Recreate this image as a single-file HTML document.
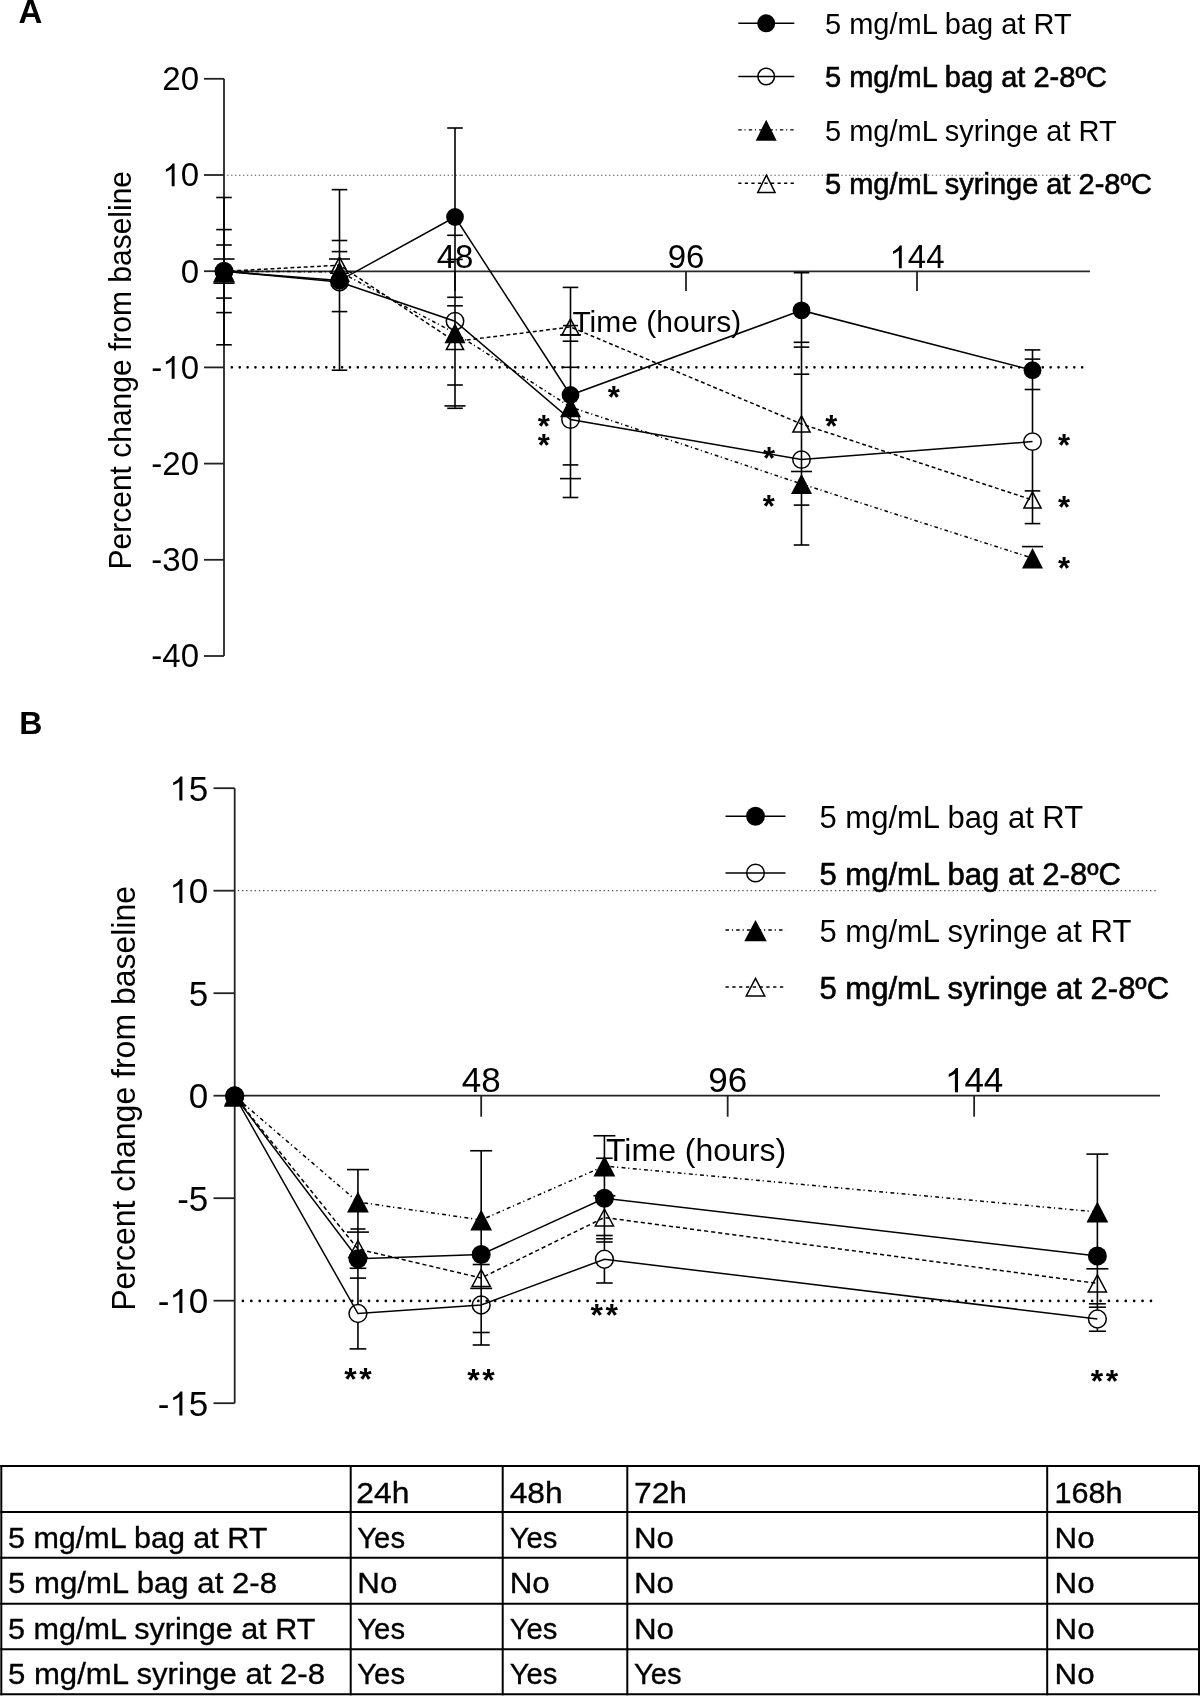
<!DOCTYPE html>
<html><head><meta charset="utf-8"><style>
html,body{margin:0;padding:0;background:#fff;}
svg{display:block;filter:grayscale(1);}
text{font-family:"Liberation Sans", sans-serif;fill:#000;}
</style></head><body>
<svg width="1200" height="1696" viewBox="0 0 1200 1696">
<rect width="1200" height="1696" fill="#fff"/>
<text x="18.60" y="22.50" font-size="33" text-anchor="start" font-weight="bold" >A</text>
<line x1="227.20" y1="175.25" x2="1083.00" y2="175.25" stroke="#555" stroke-width="1.2" stroke-dasharray="1.4 2.5365"/>
<line x1="231.87" y1="367.35" x2="1082.50" y2="367.35" stroke="#000" stroke-width="2.6" stroke-dasharray="0 7.873" stroke-linecap="round"/>
<line x1="224.00" y1="78.80" x2="224.00" y2="656.00" stroke="#222" stroke-width="1.8" />
<line x1="204.00" y1="78.80" x2="224.00" y2="78.80" stroke="#222" stroke-width="1.8" />
<text transform="translate(162.29,90.10) scale(1,1.0)" font-size="33">2</text>
<text transform="translate(180.65,90.10) scale(1,1.0)" font-size="33">0</text>
<line x1="204.00" y1="175.00" x2="224.00" y2="175.00" stroke="#222" stroke-width="1.8" />
<path d="M763 0L583 0L583 1100Q518 1040 412 982Q307 924 223 894L223 1061Q374 1129 484 1224Q595 1318 636 1409L763 1409Z" transform="translate(162.29,186.30) scale(0.01611,-0.01611)" fill="#000"/>
<text transform="translate(180.65,186.30) scale(1,1.0)" font-size="33">0</text>
<line x1="204.00" y1="271.20" x2="224.00" y2="271.20" stroke="#222" stroke-width="1.8" />
<text transform="translate(180.65,282.50) scale(1,1.0)" font-size="33">0</text>
<line x1="204.00" y1="367.40" x2="224.00" y2="367.40" stroke="#222" stroke-width="1.8" />
<text transform="translate(151.30,378.70) scale(1,1.0)" font-size="33">-</text>
<path d="M763 0L583 0L583 1100Q518 1040 412 982Q307 924 223 894L223 1061Q374 1129 484 1224Q595 1318 636 1409L763 1409Z" transform="translate(162.29,378.70) scale(0.01611,-0.01611)" fill="#000"/>
<text transform="translate(180.65,378.70) scale(1,1.0)" font-size="33">0</text>
<line x1="204.00" y1="463.60" x2="224.00" y2="463.60" stroke="#222" stroke-width="1.8" />
<text transform="translate(151.30,474.90) scale(1,1.0)" font-size="33">-</text>
<text transform="translate(162.29,474.90) scale(1,1.0)" font-size="33">2</text>
<text transform="translate(180.65,474.90) scale(1,1.0)" font-size="33">0</text>
<line x1="204.00" y1="559.80" x2="224.00" y2="559.80" stroke="#222" stroke-width="1.8" />
<text transform="translate(151.30,571.10) scale(1,1.0)" font-size="33">-</text>
<text transform="translate(162.29,571.10) scale(1,1.0)" font-size="33">3</text>
<text transform="translate(180.65,571.10) scale(1,1.0)" font-size="33">0</text>
<line x1="204.00" y1="656.00" x2="224.00" y2="656.00" stroke="#222" stroke-width="1.8" />
<text transform="translate(151.30,667.30) scale(1,1.0)" font-size="33">-</text>
<text transform="translate(162.29,667.30) scale(1,1.0)" font-size="33">4</text>
<text transform="translate(180.65,667.30) scale(1,1.0)" font-size="33">0</text>
<line x1="224.00" y1="271.35" x2="1090.00" y2="271.35" stroke="#2a2a2a" stroke-width="1.8" />
<line x1="455.00" y1="271.20" x2="455.00" y2="291.00" stroke="#222" stroke-width="1.8" />
<text transform="translate(436.65,268.30) scale(1,1.0)" font-size="33">4</text>
<text transform="translate(455.00,268.30) scale(1,1.0)" font-size="33">8</text>
<line x1="686.00" y1="271.20" x2="686.00" y2="291.00" stroke="#222" stroke-width="1.8" />
<text transform="translate(667.65,268.30) scale(1,1.0)" font-size="33">9</text>
<text transform="translate(686.00,268.30) scale(1,1.0)" font-size="33">6</text>
<line x1="917.00" y1="271.20" x2="917.00" y2="291.00" stroke="#222" stroke-width="1.8" />
<path d="M763 0L583 0L583 1100Q518 1040 412 982Q307 924 223 894L223 1061Q374 1129 484 1224Q595 1318 636 1409L763 1409Z" transform="translate(889.47,268.30) scale(0.01611,-0.01611)" fill="#000"/>
<text transform="translate(907.82,268.30) scale(1,1.0)" font-size="33">4</text>
<text transform="translate(926.18,268.30) scale(1,1.0)" font-size="33">4</text>
<text x="572.40" y="331.60" font-size="30" text-anchor="start" font-weight="normal" >Time (hours)</text>
<text transform="translate(131.2,370.2) rotate(-90) scale(1,1.04)" font-size="30" text-anchor="middle">Percent change from baseline</text>
<line x1="224.00" y1="197.50" x2="224.00" y2="344.80" stroke="#000" stroke-width="1.6" />
<line x1="216.20" y1="197.50" x2="231.80" y2="197.50" stroke="#000" stroke-width="1.6" />
<line x1="216.20" y1="229.60" x2="231.80" y2="229.60" stroke="#000" stroke-width="1.6" />
<line x1="216.20" y1="245.00" x2="231.80" y2="245.00" stroke="#000" stroke-width="1.6" />
<line x1="213.50" y1="259.00" x2="234.50" y2="259.00" stroke="#000" stroke-width="1.6" />
<line x1="213.50" y1="281.80" x2="234.50" y2="281.80" stroke="#000" stroke-width="1.6" />
<line x1="213.50" y1="283.20" x2="234.50" y2="283.20" stroke="#000" stroke-width="1.6" />
<line x1="216.20" y1="298.10" x2="231.80" y2="298.10" stroke="#000" stroke-width="1.6" />
<line x1="216.20" y1="312.60" x2="231.80" y2="312.60" stroke="#000" stroke-width="1.6" />
<line x1="216.20" y1="344.80" x2="231.80" y2="344.80" stroke="#000" stroke-width="1.6" />
<line x1="339.50" y1="189.65" x2="339.50" y2="370.20" stroke="#000" stroke-width="1.6" />
<line x1="331.70" y1="189.65" x2="347.30" y2="189.65" stroke="#000" stroke-width="1.6" />
<line x1="331.70" y1="240.50" x2="347.30" y2="240.50" stroke="#000" stroke-width="1.6" />
<line x1="331.70" y1="251.60" x2="347.30" y2="251.60" stroke="#000" stroke-width="1.6" />
<line x1="329.00" y1="259.00" x2="350.00" y2="259.00" stroke="#000" stroke-width="1.6" />
<line x1="331.70" y1="311.60" x2="347.30" y2="311.60" stroke="#000" stroke-width="1.6" />
<line x1="331.70" y1="370.20" x2="347.30" y2="370.20" stroke="#000" stroke-width="1.6" />
<line x1="455.00" y1="128.00" x2="455.00" y2="407.75" stroke="#000" stroke-width="1.6" />
<line x1="447.20" y1="128.00" x2="462.80" y2="128.00" stroke="#000" stroke-width="1.6" />
<line x1="447.20" y1="235.30" x2="462.80" y2="235.30" stroke="#000" stroke-width="1.6" />
<line x1="447.20" y1="259.40" x2="462.80" y2="259.40" stroke="#000" stroke-width="1.6" />
<line x1="447.20" y1="297.30" x2="462.80" y2="297.30" stroke="#000" stroke-width="1.6" />
<line x1="447.20" y1="305.80" x2="462.80" y2="305.80" stroke="#000" stroke-width="1.6" />
<line x1="447.20" y1="385.00" x2="462.80" y2="385.00" stroke="#000" stroke-width="1.6" />
<line x1="444.50" y1="405.90" x2="465.50" y2="405.90" stroke="#000" stroke-width="1.6" />
<line x1="447.20" y1="408.30" x2="462.80" y2="408.30" stroke="#000" stroke-width="1.6" />
<line x1="570.50" y1="287.40" x2="570.50" y2="497.50" stroke="#000" stroke-width="1.6" />
<line x1="562.70" y1="287.40" x2="578.30" y2="287.40" stroke="#000" stroke-width="1.6" />
<line x1="563.00" y1="325.60" x2="578.00" y2="325.60" stroke="#000" stroke-width="1.6" />
<line x1="560.00" y1="334.90" x2="581.00" y2="334.90" stroke="#000" stroke-width="1.6" />
<line x1="562.70" y1="341.20" x2="578.30" y2="341.20" stroke="#000" stroke-width="1.6" />
<line x1="562.70" y1="367.30" x2="578.30" y2="367.30" stroke="#000" stroke-width="1.6" />
<line x1="562.70" y1="464.90" x2="578.30" y2="464.90" stroke="#000" stroke-width="1.6" />
<line x1="560.00" y1="478.60" x2="581.00" y2="478.60" stroke="#000" stroke-width="1.6" />
<line x1="562.70" y1="497.50" x2="578.30" y2="497.50" stroke="#000" stroke-width="1.6" />
<line x1="801.50" y1="272.70" x2="801.50" y2="545.00" stroke="#000" stroke-width="1.6" />
<line x1="793.70" y1="272.70" x2="809.30" y2="272.70" stroke="#000" stroke-width="1.6" />
<line x1="793.70" y1="342.30" x2="809.30" y2="342.30" stroke="#000" stroke-width="1.6" />
<line x1="793.70" y1="347.10" x2="809.30" y2="347.10" stroke="#000" stroke-width="1.6" />
<line x1="793.70" y1="374.20" x2="809.30" y2="374.20" stroke="#000" stroke-width="1.6" />
<line x1="791.00" y1="471.50" x2="812.00" y2="471.50" stroke="#000" stroke-width="1.6" />
<line x1="793.70" y1="505.10" x2="809.30" y2="505.10" stroke="#000" stroke-width="1.6" />
<line x1="793.70" y1="545.00" x2="809.30" y2="545.00" stroke="#000" stroke-width="1.6" />
<line x1="1032.50" y1="349.90" x2="1032.50" y2="432.60" stroke="#000" stroke-width="1.6" />
<line x1="1032.50" y1="450.60" x2="1032.50" y2="523.60" stroke="#000" stroke-width="1.6" />
<line x1="1024.70" y1="349.90" x2="1040.30" y2="349.90" stroke="#000" stroke-width="1.6" />
<line x1="1024.70" y1="359.10" x2="1040.30" y2="359.10" stroke="#000" stroke-width="1.6" />
<line x1="1024.70" y1="389.50" x2="1040.30" y2="389.50" stroke="#000" stroke-width="1.6" />
<line x1="1024.70" y1="490.90" x2="1040.30" y2="490.90" stroke="#000" stroke-width="1.6" />
<line x1="1024.70" y1="523.60" x2="1040.30" y2="523.60" stroke="#000" stroke-width="1.6" />
<line x1="1022.00" y1="546.60" x2="1043.00" y2="546.60" stroke="#000" stroke-width="1.6" />
<polyline points="224.00,271.30 339.50,265.20 455.00,341.50 570.50,327.00 801.50,424.00 1032.50,500.00" fill="none" stroke="#000" stroke-width="1.5" stroke-dasharray="3.9 2.75"/>
<polyline points="224.00,271.50 339.50,271.70 455.00,333.10 570.50,407.00 801.50,483.90 1032.50,558.20" fill="none" stroke="#000" stroke-width="1.5" stroke-dasharray="3.7 2.6 1.1 3.1"/>
<polyline points="224.00,271.30 339.50,282.00 455.00,321.20 570.50,419.60 801.50,459.60 1032.50,441.60" fill="none" stroke="#000" stroke-width="1.5" />
<polyline points="224.00,271.30 339.50,280.60 455.00,217.00 570.50,395.00 801.50,310.40 1032.50,370.20" fill="none" stroke="#000" stroke-width="1.5" />
<polygon points="224.00,263.20 232.60,279.40 215.40,279.40" fill="none" stroke="#000" stroke-width="1.5" stroke-linejoin="miter"/>
<polygon points="339.50,257.10 348.10,273.30 330.90,273.30" fill="none" stroke="#000" stroke-width="1.5" stroke-linejoin="miter"/>
<polygon points="455.00,333.40 463.60,349.60 446.40,349.60" fill="none" stroke="#000" stroke-width="1.5" stroke-linejoin="miter"/>
<polygon points="570.50,318.90 579.10,335.10 561.90,335.10" fill="none" stroke="#000" stroke-width="1.5" stroke-linejoin="miter"/>
<polygon points="801.50,415.90 810.10,432.10 792.90,432.10" fill="none" stroke="#000" stroke-width="1.5" stroke-linejoin="miter"/>
<polygon points="1032.50,491.90 1041.10,508.10 1023.90,508.10" fill="none" stroke="#000" stroke-width="1.5" stroke-linejoin="miter"/>
<circle cx="224.00" cy="271.30" r="8.7" fill="none" stroke="#000" stroke-width="1.5"/>
<circle cx="339.50" cy="282.00" r="8.7" fill="none" stroke="#000" stroke-width="1.5"/>
<circle cx="455.00" cy="321.20" r="8.7" fill="none" stroke="#000" stroke-width="1.5"/>
<circle cx="570.50" cy="419.60" r="8.7" fill="none" stroke="#000" stroke-width="1.5"/>
<circle cx="801.50" cy="459.60" r="8.7" fill="none" stroke="#000" stroke-width="1.5"/>
<circle cx="1032.50" cy="441.60" r="8.7" fill="none" stroke="#000" stroke-width="1.5"/>
<polygon points="224.00,261.30 234.50,281.70 213.50,281.70" fill="#000"/>
<polygon points="339.50,261.50 350.00,281.90 329.00,281.90" fill="#000"/>
<polygon points="455.00,322.90 465.50,343.30 444.50,343.30" fill="#000"/>
<polygon points="570.50,396.80 581.00,417.20 560.00,417.20" fill="#000"/>
<polygon points="801.50,473.70 812.00,494.10 791.00,494.10" fill="#000"/>
<polygon points="1032.50,548.00 1043.00,568.40 1022.00,568.40" fill="#000"/>
<circle cx="224.00" cy="271.30" r="8.9" fill="#000"/>
<circle cx="339.50" cy="280.60" r="8.9" fill="#000"/>
<circle cx="455.00" cy="217.00" r="8.9" fill="#000"/>
<circle cx="570.50" cy="395.00" r="8.9" fill="#000"/>
<circle cx="801.50" cy="310.40" r="8.9" fill="#000"/>
<circle cx="1032.50" cy="370.20" r="8.9" fill="#000"/>
<text x="613.75" y="407.80" font-size="31" text-anchor="middle" font-weight="bold" >*</text>
<text x="543.75" y="436.50" font-size="31" text-anchor="middle" font-weight="bold" >*</text>
<text x="543.75" y="455.70" font-size="31" text-anchor="middle" font-weight="bold" >*</text>
<text x="831.30" y="436.50" font-size="31" text-anchor="middle" font-weight="bold" >*</text>
<text x="769.00" y="468.90" font-size="31" text-anchor="middle" font-weight="bold" >*</text>
<text x="768.80" y="516.70" font-size="31" text-anchor="middle" font-weight="bold" >*</text>
<text x="1064.00" y="455.60" font-size="31" text-anchor="middle" font-weight="bold" >*</text>
<text x="1064.00" y="517.70" font-size="31" text-anchor="middle" font-weight="bold" >*</text>
<text x="1064.00" y="579.10" font-size="31" text-anchor="middle" font-weight="bold" >*</text>
<polyline points="738.30,23.30 794.30,23.30" fill="none" stroke="#000" stroke-width="1.4" />
<circle cx="766.20" cy="23.30" r="9" fill="#000"/>
<text x="825.00" y="33.90" font-size="29" text-anchor="start" font-weight="normal" >5 mg/mL bag at RT</text>
<circle cx="766.20" cy="76.50" r="8.3" fill="none" stroke="#000" stroke-width="1.5"/>
<polyline points="738.30,76.50 794.30,76.50" fill="none" stroke="#000" stroke-width="1.4" />
<text x="825.00" y="87.10" font-size="29" text-anchor="start" font-weight="normal" stroke="#000" stroke-width="0.6">5 mg/mL bag at 2-8ºC</text>
<polyline points="738.30,129.90 794.30,129.90" fill="none" stroke="#000" stroke-width="1.4" stroke-dasharray="3.4 2.8 1.1 3.1"/>
<polygon points="766.20,119.70 776.70,140.70 755.70,140.70" fill="#000"/>
<text x="825.00" y="140.50" font-size="29" text-anchor="start" font-weight="normal" >5 mg/mL syringe at RT</text>
<polygon points="766.40,175.20 775.05,192.40 757.75,192.40" fill="none" stroke="#000" stroke-width="1.5" stroke-linejoin="miter"/>
<polyline points="738.30,183.30 794.30,183.30" fill="none" stroke="#000" stroke-width="1.4" stroke-dasharray="3.2 3.34"/>
<text x="825.00" y="193.90" font-size="29" text-anchor="start" font-weight="normal" stroke="#000" stroke-width="0.6">5 mg/mL syringe at 2-8ºC</text>
<text x="19.25" y="733.80" font-size="32" text-anchor="start" font-weight="bold" >B</text>
<line x1="237.80" y1="890.65" x2="1156.50" y2="890.65" stroke="#555" stroke-width="1.2" stroke-dasharray="1.4 2.804"/>
<line x1="242.91" y1="1300.90" x2="1151.50" y2="1300.90" stroke="#000" stroke-width="2.7" stroke-dasharray="0 8.408" stroke-linecap="round"/>
<line x1="234.70" y1="788.20" x2="234.70" y2="1403.20" stroke="#222" stroke-width="1.8" />
<line x1="213.50" y1="788.20" x2="234.70" y2="788.20" stroke="#222" stroke-width="1.8" />
<path d="M763 0L583 0L583 1100Q518 1040 412 982Q307 924 223 894L223 1061Q374 1129 484 1224Q595 1318 636 1409L763 1409Z" transform="translate(169.37,800.60) scale(0.01709,-0.01709)" fill="#000"/>
<text transform="translate(188.83,800.60) scale(1,1.0)" font-size="35">5</text>
<line x1="213.50" y1="890.70" x2="234.70" y2="890.70" stroke="#222" stroke-width="1.8" />
<path d="M763 0L583 0L583 1100Q518 1040 412 982Q307 924 223 894L223 1061Q374 1129 484 1224Q595 1318 636 1409L763 1409Z" transform="translate(169.37,903.10) scale(0.01709,-0.01709)" fill="#000"/>
<text transform="translate(188.83,903.10) scale(1,1.0)" font-size="35">0</text>
<line x1="213.50" y1="993.20" x2="234.70" y2="993.20" stroke="#222" stroke-width="1.8" />
<text transform="translate(188.83,1005.60) scale(1,1.0)" font-size="35">5</text>
<line x1="213.50" y1="1095.70" x2="234.70" y2="1095.70" stroke="#222" stroke-width="1.8" />
<text transform="translate(188.83,1108.10) scale(1,1.0)" font-size="35">0</text>
<line x1="213.50" y1="1198.20" x2="234.70" y2="1198.20" stroke="#222" stroke-width="1.8" />
<text transform="translate(177.18,1210.60) scale(1,1.0)" font-size="35">-</text>
<text transform="translate(188.83,1210.60) scale(1,1.0)" font-size="35">5</text>
<line x1="213.50" y1="1300.70" x2="234.70" y2="1300.70" stroke="#222" stroke-width="1.8" />
<text transform="translate(157.71,1313.10) scale(1,1.0)" font-size="35">-</text>
<path d="M763 0L583 0L583 1100Q518 1040 412 982Q307 924 223 894L223 1061Q374 1129 484 1224Q595 1318 636 1409L763 1409Z" transform="translate(169.37,1313.10) scale(0.01709,-0.01709)" fill="#000"/>
<text transform="translate(188.83,1313.10) scale(1,1.0)" font-size="35">0</text>
<line x1="213.50" y1="1403.20" x2="234.70" y2="1403.20" stroke="#222" stroke-width="1.8" />
<text transform="translate(157.71,1415.60) scale(1,1.0)" font-size="35">-</text>
<path d="M763 0L583 0L583 1100Q518 1040 412 982Q307 924 223 894L223 1061Q374 1129 484 1224Q595 1318 636 1409L763 1409Z" transform="translate(169.37,1415.60) scale(0.01709,-0.01709)" fill="#000"/>
<text transform="translate(188.83,1415.60) scale(1,1.0)" font-size="35">5</text>
<line x1="234.70" y1="1095.70" x2="1160.00" y2="1095.70" stroke="#222" stroke-width="1.8" />
<line x1="481.18" y1="1095.70" x2="481.18" y2="1116.70" stroke="#222" stroke-width="1.8" />
<text transform="translate(461.71,1092.20) scale(1,1.0)" font-size="35">4</text>
<text transform="translate(481.18,1092.20) scale(1,1.0)" font-size="35">8</text>
<line x1="727.66" y1="1095.70" x2="727.66" y2="1116.70" stroke="#222" stroke-width="1.8" />
<text transform="translate(708.19,1092.20) scale(1,1.0)" font-size="35">9</text>
<text transform="translate(727.66,1092.20) scale(1,1.0)" font-size="35">6</text>
<line x1="974.14" y1="1095.70" x2="974.14" y2="1116.70" stroke="#222" stroke-width="1.8" />
<path d="M763 0L583 0L583 1100Q518 1040 412 982Q307 924 223 894L223 1061Q374 1129 484 1224Q595 1318 636 1409L763 1409Z" transform="translate(944.94,1092.20) scale(0.01709,-0.01709)" fill="#000"/>
<text transform="translate(964.41,1092.20) scale(1,1.0)" font-size="35">4</text>
<text transform="translate(983.87,1092.20) scale(1,1.0)" font-size="35">4</text>
<text x="606.00" y="1160.80" font-size="32" text-anchor="start" font-weight="normal" >Time (hours)</text>
<text transform="translate(135.2,1098.4) rotate(-90) scale(1,1.04)" font-size="32" text-anchor="middle">Percent change from baseline</text>
<line x1="357.94" y1="1169.60" x2="357.94" y2="1304.60" stroke="#000" stroke-width="1.6" />
<line x1="357.94" y1="1322.40" x2="357.94" y2="1348.90" stroke="#000" stroke-width="1.6" />
<line x1="346.94" y1="1169.60" x2="368.94" y2="1169.60" stroke="#000" stroke-width="1.6" />
<line x1="350.44" y1="1229.00" x2="365.44" y2="1229.00" stroke="#000" stroke-width="1.6" />
<line x1="346.94" y1="1232.10" x2="368.94" y2="1232.10" stroke="#000" stroke-width="1.6" />
<line x1="349.59" y1="1268.30" x2="366.29" y2="1268.30" stroke="#000" stroke-width="1.6" />
<line x1="349.84" y1="1278.10" x2="366.04" y2="1278.10" stroke="#000" stroke-width="1.6" />
<line x1="349.59" y1="1348.90" x2="366.29" y2="1348.90" stroke="#000" stroke-width="1.6" />
<line x1="481.18" y1="1150.75" x2="481.18" y2="1345.00" stroke="#000" stroke-width="1.6" />
<line x1="470.18" y1="1150.75" x2="492.18" y2="1150.75" stroke="#000" stroke-width="1.6" />
<line x1="472.68" y1="1264.50" x2="489.68" y2="1264.50" stroke="#000" stroke-width="1.6" />
<line x1="470.18" y1="1288.40" x2="492.18" y2="1288.40" stroke="#000" stroke-width="1.6" />
<line x1="472.68" y1="1332.50" x2="489.68" y2="1332.50" stroke="#000" stroke-width="1.6" />
<line x1="472.68" y1="1345.00" x2="489.68" y2="1345.00" stroke="#000" stroke-width="1.6" />
<line x1="604.42" y1="1135.75" x2="604.42" y2="1249.80" stroke="#000" stroke-width="1.6" />
<line x1="604.42" y1="1268.70" x2="604.42" y2="1283.00" stroke="#000" stroke-width="1.6" />
<line x1="593.42" y1="1135.75" x2="615.42" y2="1135.75" stroke="#000" stroke-width="1.6" />
<line x1="596.17" y1="1158.25" x2="612.67" y2="1158.25" stroke="#000" stroke-width="1.6" />
<line x1="593.42" y1="1195.80" x2="615.42" y2="1195.80" stroke="#000" stroke-width="1.6" />
<line x1="596.17" y1="1235.50" x2="612.67" y2="1235.50" stroke="#000" stroke-width="1.6" />
<line x1="596.17" y1="1238.75" x2="612.67" y2="1238.75" stroke="#000" stroke-width="1.6" />
<line x1="596.17" y1="1242.00" x2="612.67" y2="1242.00" stroke="#000" stroke-width="1.6" />
<line x1="596.17" y1="1283.00" x2="612.67" y2="1283.00" stroke="#000" stroke-width="1.6" />
<line x1="1097.38" y1="1154.10" x2="1097.38" y2="1309.60" stroke="#000" stroke-width="1.6" />
<line x1="1097.38" y1="1328.40" x2="1097.38" y2="1331.25" stroke="#000" stroke-width="1.6" />
<line x1="1086.38" y1="1154.10" x2="1108.38" y2="1154.10" stroke="#000" stroke-width="1.6" />
<line x1="1086.38" y1="1268.80" x2="1108.38" y2="1268.80" stroke="#000" stroke-width="1.6" />
<line x1="1088.88" y1="1303.80" x2="1105.88" y2="1303.80" stroke="#000" stroke-width="1.6" />
<line x1="1088.88" y1="1307.20" x2="1105.88" y2="1307.20" stroke="#000" stroke-width="1.6" />
<line x1="1088.88" y1="1331.25" x2="1105.88" y2="1331.25" stroke="#000" stroke-width="1.6" />
<polyline points="234.70,1096.00 357.94,1249.00 481.18,1278.00 604.42,1217.50 1097.38,1283.40" fill="none" stroke="#000" stroke-width="1.5" stroke-dasharray="4.15 2.95"/>
<polyline points="234.70,1096.20 357.94,1202.00 481.18,1220.00 604.42,1166.00 1097.38,1212.00" fill="none" stroke="#000" stroke-width="1.5" stroke-dasharray="3.9 2.8 1.2 3.35"/>
<polyline points="234.70,1096.00 357.94,1313.50 481.18,1305.00 604.42,1259.25 1097.38,1319.00" fill="none" stroke="#000" stroke-width="1.5" />
<polyline points="234.70,1096.00 357.94,1258.70 481.18,1254.50 604.42,1198.25 1097.38,1256.00" fill="none" stroke="#000" stroke-width="1.5" />
<polygon points="234.70,1087.50 243.80,1104.50 225.60,1104.50" fill="none" stroke="#000" stroke-width="1.5" stroke-linejoin="miter"/>
<polygon points="357.94,1240.50 367.04,1257.50 348.84,1257.50" fill="none" stroke="#000" stroke-width="1.5" stroke-linejoin="miter"/>
<polygon points="481.18,1269.50 490.28,1286.50 472.08,1286.50" fill="none" stroke="#000" stroke-width="1.5" stroke-linejoin="miter"/>
<polygon points="604.42,1209.00 613.52,1226.00 595.32,1226.00" fill="none" stroke="#000" stroke-width="1.5" stroke-linejoin="miter"/>
<polygon points="1097.38,1274.90 1106.48,1291.90 1088.28,1291.90" fill="none" stroke="#000" stroke-width="1.5" stroke-linejoin="miter"/>
<circle cx="234.70" cy="1096.00" r="8.9" fill="none" stroke="#000" stroke-width="1.5"/>
<circle cx="357.94" cy="1313.50" r="8.9" fill="none" stroke="#000" stroke-width="1.5"/>
<circle cx="481.18" cy="1305.00" r="8.9" fill="none" stroke="#000" stroke-width="1.5"/>
<circle cx="604.42" cy="1259.25" r="8.9" fill="none" stroke="#000" stroke-width="1.5"/>
<circle cx="1097.38" cy="1319.00" r="8.9" fill="none" stroke="#000" stroke-width="1.5"/>
<polygon points="234.70,1085.60 245.60,1106.80 223.80,1106.80" fill="#000"/>
<polygon points="357.94,1191.40 368.84,1212.60 347.04,1212.60" fill="#000"/>
<polygon points="481.18,1209.40 492.08,1230.60 470.28,1230.60" fill="#000"/>
<polygon points="604.42,1155.40 615.32,1176.60 593.52,1176.60" fill="#000"/>
<polygon points="1097.38,1201.40 1108.28,1222.60 1086.48,1222.60" fill="#000"/>
<circle cx="234.70" cy="1096.00" r="9.5" fill="#000"/>
<circle cx="357.94" cy="1258.70" r="9.5" fill="#000"/>
<circle cx="481.18" cy="1254.50" r="9.5" fill="#000"/>
<circle cx="604.42" cy="1198.25" r="9.5" fill="#000"/>
<circle cx="1097.38" cy="1256.00" r="9.5" fill="#000"/>
<text x="350.50" y="1390.20" font-size="32" text-anchor="middle" font-weight="bold" >*</text>
<text x="365.50" y="1390.20" font-size="32" text-anchor="middle" font-weight="bold" >*</text>
<text x="473.50" y="1390.60" font-size="32" text-anchor="middle" font-weight="bold" >*</text>
<text x="488.50" y="1390.60" font-size="32" text-anchor="middle" font-weight="bold" >*</text>
<text x="596.80" y="1325.60" font-size="32" text-anchor="middle" font-weight="bold" >*</text>
<text x="611.80" y="1325.60" font-size="32" text-anchor="middle" font-weight="bold" >*</text>
<text x="1096.90" y="1392.40" font-size="32" text-anchor="middle" font-weight="bold" >*</text>
<text x="1111.90" y="1392.40" font-size="32" text-anchor="middle" font-weight="bold" >*</text>
<polyline points="725.50,816.25 785.50,816.25" fill="none" stroke="#000" stroke-width="1.4" />
<circle cx="755.50" cy="816.25" r="9.4" fill="#000"/>
<text x="819.50" y="828.05" font-size="31" text-anchor="start" font-weight="normal" >5 mg/mL bag at RT</text>
<circle cx="755.50" cy="873.00" r="8.8" fill="none" stroke="#000" stroke-width="1.5"/>
<polyline points="725.50,873.00 785.50,873.00" fill="none" stroke="#000" stroke-width="1.4" />
<text x="819.50" y="884.80" font-size="31" text-anchor="start" font-weight="normal" stroke="#000" stroke-width="0.6">5 mg/mL bag at 2-8ºC</text>
<polyline points="725.50,930.00 785.50,930.00" fill="none" stroke="#000" stroke-width="1.4" stroke-dasharray="3.5 2.9 1.2 3.1"/>
<polygon points="755.50,919.95 766.75,941.25 744.25,941.25" fill="#000"/>
<text x="819.50" y="941.80" font-size="31" text-anchor="start" font-weight="normal" >5 mg/mL syringe at RT</text>
<polygon points="755.50,978.45 764.75,995.95 746.25,995.95" fill="none" stroke="#000" stroke-width="1.5" stroke-linejoin="miter"/>
<polyline points="725.50,987.00 785.50,987.00" fill="none" stroke="#000" stroke-width="1.4" stroke-dasharray="3.3 3.5"/>
<text x="819.50" y="998.80" font-size="31" text-anchor="start" font-weight="normal" stroke="#000" stroke-width="0.6">5 mg/mL syringe at 2-8ºC</text>
<line x1="0.30" y1="1466.00" x2="1200.00" y2="1466.00" stroke="#000" stroke-width="2" />
<line x1="0.30" y1="1512.00" x2="1200.00" y2="1512.00" stroke="#000" stroke-width="2" />
<line x1="0.30" y1="1557.70" x2="1200.00" y2="1557.70" stroke="#000" stroke-width="2" />
<line x1="0.30" y1="1603.70" x2="1200.00" y2="1603.70" stroke="#000" stroke-width="2" />
<line x1="0.30" y1="1649.30" x2="1200.00" y2="1649.30" stroke="#000" stroke-width="2" />
<line x1="0.30" y1="1694.30" x2="1200.00" y2="1694.30" stroke="#000" stroke-width="2" />
<line x1="1.30" y1="1465.00" x2="1.30" y2="1695.30" stroke="#000" stroke-width="2" />
<line x1="350.70" y1="1465.00" x2="350.70" y2="1695.30" stroke="#000" stroke-width="2" />
<line x1="502.70" y1="1465.00" x2="502.70" y2="1695.30" stroke="#000" stroke-width="2" />
<line x1="627.30" y1="1465.00" x2="627.30" y2="1695.30" stroke="#000" stroke-width="2" />
<line x1="1047.20" y1="1465.00" x2="1047.20" y2="1695.30" stroke="#000" stroke-width="2" />
<line x1="1199.00" y1="1465.00" x2="1199.00" y2="1695.30" stroke="#000" stroke-width="2" />
<text transform="translate(356.30,1502.70) scale(1,0.97)" font-size="31" textLength="53" lengthAdjust="spacingAndGlyphs" stroke="#000" stroke-width="0.35">24h</text>
<text transform="translate(509.70,1502.70) scale(1,0.97)" font-size="31" textLength="53" lengthAdjust="spacingAndGlyphs" stroke="#000" stroke-width="0.35">48h</text>
<text transform="translate(634.00,1502.70) scale(1,0.97)" font-size="31" textLength="53" lengthAdjust="spacingAndGlyphs" stroke="#000" stroke-width="0.35">72h</text>
<text transform="translate(1054.60,1502.70) scale(1,0.97)" font-size="31" textLength="68" lengthAdjust="spacingAndGlyphs" stroke="#000" stroke-width="0.35">168h</text>
<text transform="translate(8.00,1547.80) scale(1,0.97)" font-size="31" textLength="259.4" lengthAdjust="spacingAndGlyphs" stroke="#000" stroke-width="0.35">5 mg/mL bag at RT</text>
<text transform="translate(357.30,1547.80) scale(1,0.97)" font-size="31" textLength="47.7" lengthAdjust="spacingAndGlyphs" stroke="#000" stroke-width="0.35">Yes</text>
<text transform="translate(509.70,1547.80) scale(1,0.97)" font-size="31" textLength="47.7" lengthAdjust="spacingAndGlyphs" stroke="#000" stroke-width="0.35">Yes</text>
<text transform="translate(634.00,1547.80) scale(1,0.97)" font-size="31" textLength="40" lengthAdjust="spacingAndGlyphs" stroke="#000" stroke-width="0.35">No</text>
<text transform="translate(1054.60,1547.80) scale(1,0.97)" font-size="31" textLength="40" lengthAdjust="spacingAndGlyphs" stroke="#000" stroke-width="0.35">No</text>
<text transform="translate(8.00,1593.00) scale(1,0.97)" font-size="31" textLength="269" lengthAdjust="spacingAndGlyphs" stroke="#000" stroke-width="0.35">5 mg/mL bag at 2-8</text>
<text transform="translate(357.30,1593.00) scale(1,0.97)" font-size="31" textLength="40" lengthAdjust="spacingAndGlyphs" stroke="#000" stroke-width="0.35">No</text>
<text transform="translate(509.70,1593.00) scale(1,0.97)" font-size="31" textLength="40" lengthAdjust="spacingAndGlyphs" stroke="#000" stroke-width="0.35">No</text>
<text transform="translate(634.00,1593.00) scale(1,0.97)" font-size="31" textLength="40" lengthAdjust="spacingAndGlyphs" stroke="#000" stroke-width="0.35">No</text>
<text transform="translate(1054.60,1593.00) scale(1,0.97)" font-size="31" textLength="40" lengthAdjust="spacingAndGlyphs" stroke="#000" stroke-width="0.35">No</text>
<text transform="translate(8.00,1638.70) scale(1,0.97)" font-size="31" textLength="307.4" lengthAdjust="spacingAndGlyphs" stroke="#000" stroke-width="0.35">5 mg/mL syringe at RT</text>
<text transform="translate(357.30,1638.70) scale(1,0.97)" font-size="31" textLength="47.7" lengthAdjust="spacingAndGlyphs" stroke="#000" stroke-width="0.35">Yes</text>
<text transform="translate(509.70,1638.70) scale(1,0.97)" font-size="31" textLength="47.7" lengthAdjust="spacingAndGlyphs" stroke="#000" stroke-width="0.35">Yes</text>
<text transform="translate(634.00,1638.70) scale(1,0.97)" font-size="31" textLength="40" lengthAdjust="spacingAndGlyphs" stroke="#000" stroke-width="0.35">No</text>
<text transform="translate(1054.60,1638.70) scale(1,0.97)" font-size="31" textLength="40" lengthAdjust="spacingAndGlyphs" stroke="#000" stroke-width="0.35">No</text>
<text transform="translate(8.00,1684.00) scale(1,0.97)" font-size="31" textLength="317" lengthAdjust="spacingAndGlyphs" stroke="#000" stroke-width="0.35">5 mg/mL syringe at 2-8</text>
<text transform="translate(357.30,1684.00) scale(1,0.97)" font-size="31" textLength="47.7" lengthAdjust="spacingAndGlyphs" stroke="#000" stroke-width="0.35">Yes</text>
<text transform="translate(509.70,1684.00) scale(1,0.97)" font-size="31" textLength="47.7" lengthAdjust="spacingAndGlyphs" stroke="#000" stroke-width="0.35">Yes</text>
<text transform="translate(634.00,1684.00) scale(1,0.97)" font-size="31" textLength="47.7" lengthAdjust="spacingAndGlyphs" stroke="#000" stroke-width="0.35">Yes</text>
<text transform="translate(1054.60,1684.00) scale(1,0.97)" font-size="31" textLength="40" lengthAdjust="spacingAndGlyphs" stroke="#000" stroke-width="0.35">No</text>
</svg>
</body></html>
